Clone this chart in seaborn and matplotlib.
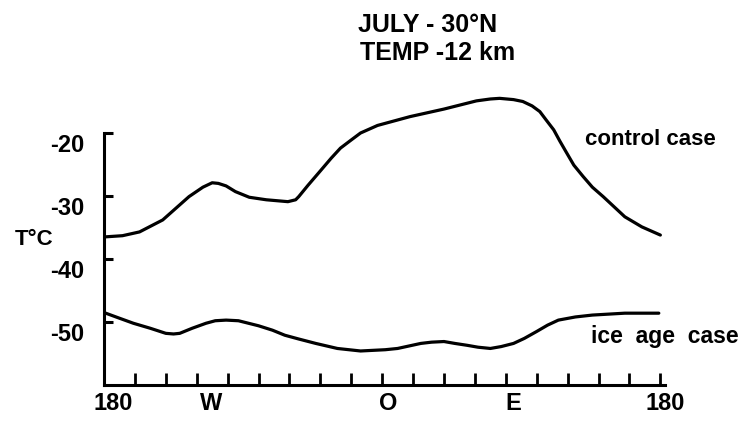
import numpy as np
import pandas as pd
import matplotlib
matplotlib.use("Agg")
import matplotlib.pyplot as plt
from matplotlib.transforms import ScaledTranslation
import seaborn as sns

# Longitude (deg, west negative) and 12 km temperature (deg C), July at 30N
lon_control = [-180, -168, -157, -142, -125, -116, -110, -106, -101, -95, -86, -75,
               -61, -56, -54, -48, -41, -33, -27, -20, -14, -3, 18, 40, 61, 70, 76,
               85, 91, 97, 102, 106, 111, 115, 119, 124, 130, 136, 143, 150, 157,
               168, 180]
temp_control = [-36.5, -36.3, -35.7, -33.8, -30.1, -28.6, -27.9, -28.0, -28.4, -29.3,
                -30.2, -30.6, -30.9, -30.6, -30.1, -28.3, -26.3, -24.0, -22.4, -21.1,
                -20.0, -18.8, -17.4, -16.2, -14.9, -14.6, -14.5, -14.7, -15.0, -15.7,
                -16.6, -17.9, -19.5, -21.3, -23.0, -25.1, -26.9, -28.6, -30.1, -31.7,
                -33.3, -34.9, -36.2]

lon_ice = [-180, -170, -161, -150, -140, -135, -131, -123, -114, -108, -101, -93,
           -80, -71, -63, -54, -43, -29, -14, 2, 10, 25, 32, 40, 47, 55, 62, 70,
           77, 85, 92, 100, 107, 114, 125, 136, 157, 179]
temp_ice = [-48.5, -49.4, -50.2, -51.0, -51.8, -51.9, -51.8, -51.0, -50.2, -49.8,
            -49.7, -49.8, -50.6, -51.3, -52.1, -52.7, -53.4, -54.2, -54.6, -54.4,
            -54.2, -53.4, -53.2, -53.1, -53.4, -53.7, -54.0, -54.2, -53.9, -53.4,
            -52.6, -51.5, -50.5, -49.7, -49.2, -48.9, -48.6, -48.6]

y_ticks = [-20, -30, -40, -50]
y_tick_labels = ["-20", "-30", "-40", "-50"]
lon_marks = list(range(-180, 181, 20))
lon_label_pos = [-174, -111, 4, 85, 183]
lon_labels = ["180", "W", "O", "E", "180"]

sns.set_theme(style="white")
plt.rcParams["font.family"] = ["Liberation Sans", "DejaVu Sans"]
plt.rcParams["font.weight"] = "bold"
for key in ("text.color", "axes.labelcolor", "xtick.color", "ytick.color"):
    plt.rcParams[key] = "black"

control = pd.DataFrame({"lon": lon_control, "temp": temp_control})
ice = pd.DataFrame({"lon": lon_ice, "temp": temp_ice})

fig = plt.figure(figsize=(7.51, 4.22), dpi=100)
ax = fig.add_axes([104 / 751, 1 - 385 / 422, (665 - 104) / 751, (385 - 82.6) / 422])

line_kw = dict(color="black", linewidth=2.3, solid_capstyle="round", solid_joinstyle="round")
sns.lineplot(data=control, x="lon", y="temp", ax=ax, sort=False, **line_kw)
sns.lineplot(data=ice, x="lon", y="temp", ax=ax, sort=False, **line_kw)

ax.set_xlim(-180, 180)
ax.set_ylim(-60, -12)
ax.set_xlabel("")
ax.set_ylabel("")

for side in ("top", "right"):
    ax.spines[side].set_visible(False)
for side in ("left", "bottom"):
    ax.spines[side].set_color("black")
    ax.spines[side].set_linewidth(2.2)
ax.spines["left"].set_bounds(-60, -20)

# y axis: inward ticks, labels sitting a little below each tick
ax.set_yticks(y_ticks)
ax.set_yticklabels(y_tick_labels, fontsize=17, fontweight="bold", color="black")
ax.tick_params(axis="y", which="major", direction="in", length=6.5, width=2.2,
               color="black", pad=14, left=True)
shift = ScaledTranslation(0, -0.10, fig.dpi_scale_trans)
for lab in ax.get_yticklabels():
    lab.set_transform(lab.get_transform() + shift)

# x axis: upward marks every 20 deg, letter labels without marks
ax.set_xticks(lon_marks, minor=True)
ax.set_xticks(lon_label_pos)
ax.set_xticklabels(lon_labels, fontsize=17, fontweight="bold", color="black")
ax.tick_params(axis="x", which="minor", direction="in", length=8.5, width=2.0,
               color="black", bottom=True)
ax.tick_params(axis="x", which="major", length=0, pad=5, bottom=True)

ax.text(131, -21.9, "control case", fontsize=16, fontweight="bold", color="black",
        ha="left", va="baseline", clip_on=False)
ax.text(135, -53.3, "ice  age  case", fontsize=16.5, fontweight="bold", color="black",
        ha="left", va="baseline", clip_on=False)

fig.text(15 / 751, 1 - 245 / 422, "T°C", fontsize=16, fontweight="bold",
         color="black", ha="left", va="baseline")
fig.text(358 / 751, 1 - 32 / 422, "JULY - 30°N", fontsize=18, fontweight="bold",
         color="black", ha="left", va="baseline")
fig.text(360 / 751, 1 - 60 / 422, "TEMP -12 km", fontsize=18, fontweight="bold",
         color="black", ha="left", va="baseline")

fig.savefig("out.png", dpi=100, facecolor="white")
